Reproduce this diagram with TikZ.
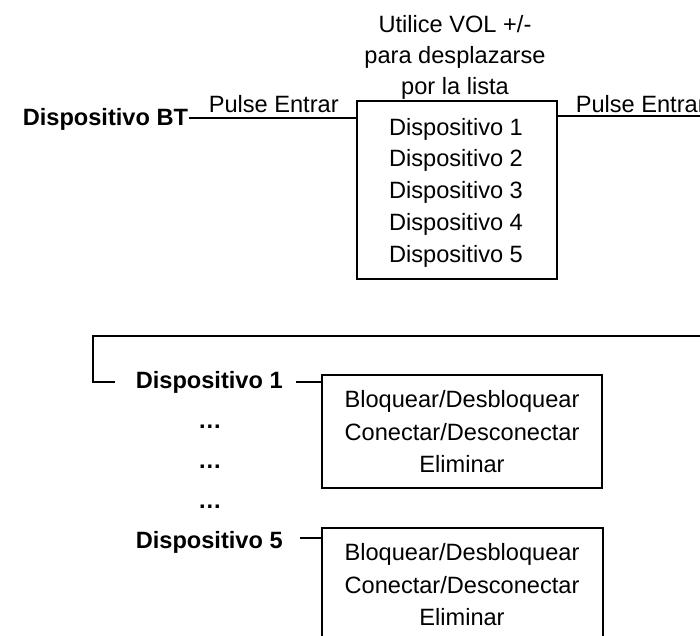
\documentclass[tikz,border=0pt]{standalone}
\usepackage{fontspec}
\setmainfont{Liberation Sans}
\begin{document}
\begin{tikzpicture}[x=1pt,y=-1pt,line width=1.6pt,
  lbl/.style={inner sep=0pt,font=\fontsize{23.6}{28}\selectfont},
  blbl/.style={inner sep=0pt,font=\fontsize{23.6}{28}\selectfont\bfseries},
  box/.style={draw,inner sep=0pt}]
\clip (0,0) rectangle (700,635);
% top part
\node[blbl,anchor=base west] (bt) at (22,125) {Dispositivo BT};
\node[lbl,anchor=base west] (pe1) at (208,112) {Pulse Entrar};
\node[lbl,anchor=base west] (pe2) at (575,112) {Pulse Entrar};
\node[lbl,anchor=base] (t1) at (455,32) {Utilice VOL +/-};
\node[lbl,anchor=base] (t2) at (455,63) {para desplazarse};
\node[lbl,anchor=base] (t3) at (455,94) {por la lista};
\node[box,minimum width=200pt,minimum height=178pt] (list) at (457,190) {};
\foreach \i in {1,...,5}{
  \node[lbl,anchor=base] (li\i) at (456,{135+31.75*(\i-1)}) {Dispositivo \i};
}
\coordinate (ya) at (0,118);
\coordinate (yb) at (0,116);
\coordinate (rend) at (700,116);
\draw (bt.east |- ya) -- (list.west |- ya);
\draw (list.east |- yb) -- (rend);
% bracket
\coordinate (br1) at (700,336);
\coordinate (br2) at (93,336);
\coordinate (br3) at (93,382);
\coordinate (br4) at (115,382);
\draw (br1) -- (br2) -- (br3) -- (br4);
% lower part
\node[blbl,anchor=base west] (d1) at (135,388) {Dispositivo 1};
\node[blbl,anchor=base] (e1) at (210,428) {…};
\node[blbl,anchor=base] (e2) at (210,468) {…};
\node[blbl,anchor=base] (e3) at (210,508) {…};
\node[blbl,anchor=base west] (d5) at (135,548) {Dispositivo 5};
\node[box,minimum width=280pt,minimum height=113pt] (opt1) at (462,431.5) {};
\node[lbl,anchor=base] (o1a) at (462,407) {Bloquear/Desbloquear};
\node[lbl,anchor=base] (o1b) at (462,440) {Conectar/Desconectar};
\node[lbl,anchor=base] (o1c) at (462,472) {Eliminar};
\node[box,minimum width=281pt,minimum height=140pt] (opt5) at (462.5,598) {};
\node[lbl,anchor=base] (o5a) at (462,560) {Bloquear/Desbloquear};
\node[lbl,anchor=base] (o5b) at (462,593) {Conectar/Desconectar};
\node[lbl,anchor=base] (o5c) at (462,625) {Eliminar};
\coordinate (l1) at (296,382);
\coordinate (l5) at (300,538);
\draw (l1) -- (opt1.west |- l1);
\draw (l5) -- (opt5.west |- l5);
\end{tikzpicture}
\end{document}
